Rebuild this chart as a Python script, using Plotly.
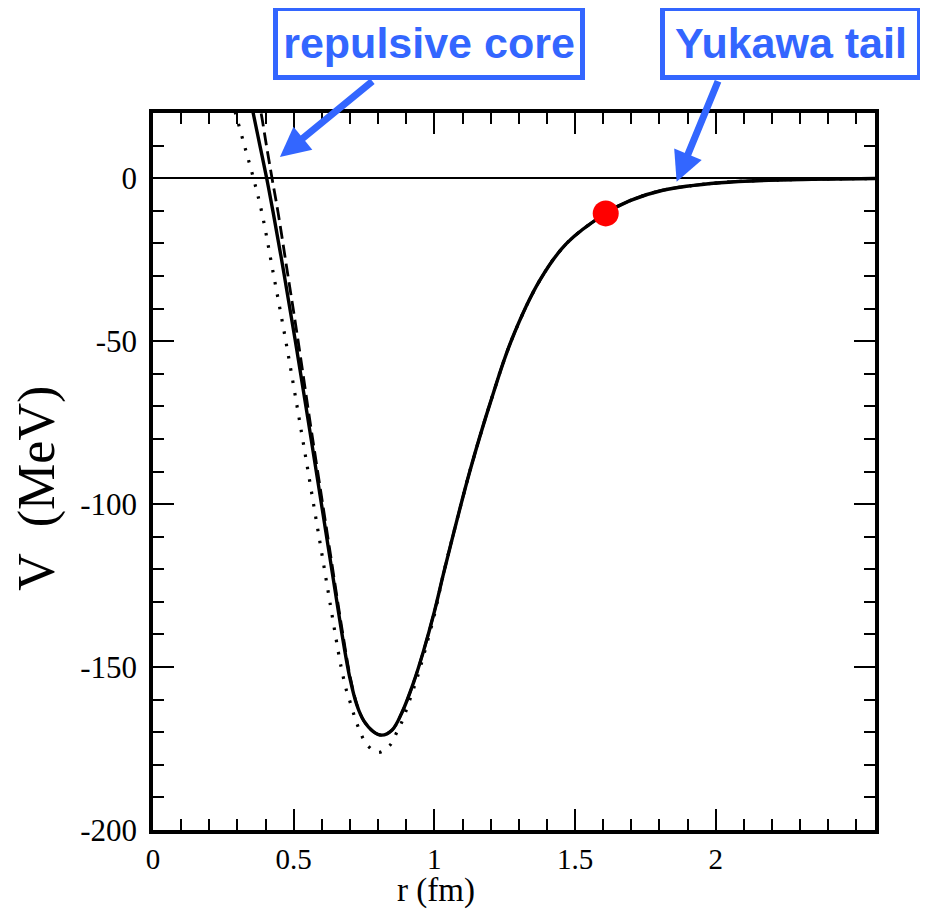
import plotly.graph_objects as go

# ---- data ----
solid_r = [0.345, 0.356, 0.380, 0.404, 0.427, 0.465, 0.505, 0.550, 0.617, 0.670, 0.700,
           0.725, 0.750, 0.783, 0.813, 0.850, 0.884, 0.925, 0.960, 1.000, 1.032, 1.080,
           1.127, 1.198, 1.275, 1.375, 1.470, 1.609, 1.695, 1.812, 2.015, 2.252, 2.566]
solid_v = [24.5, 20.0, 10.0, 0.0, -10.5, -29.0, -49.5, -73.5, -110.0, -139.0, -153.5,
           -161.8, -166.6, -169.8, -170.9, -169.3, -164.1, -155.0, -145.5, -133.0, -121.5, -105.0,
           -89.6, -69.1, -49.5, -31.3, -20.0, -10.8, -6.9, -3.7, -1.4, -0.5, -0.1]

dashed_r = [0.370, 0.384, 0.404, 0.423, 0.445, 0.478, 0.515, 0.556, 0.621, 0.673, 0.702,
            0.726, 0.750, 0.783, 0.813, 0.850, 0.884, 0.925, 0.960, 1.000, 1.032, 1.080,
            1.127, 1.198, 1.275, 1.375, 1.470, 1.609, 1.695, 1.812, 2.015, 2.252, 2.566]
dashed_v = [25.5, 20.0, 9.6, 0.0, -10.8, -29.0, -49.5, -73.5, -110.0, -139.0, -153.5,
            -161.8, -166.6, -169.8, -170.9, -169.3, -164.1, -155.0, -145.5, -133.0, -121.5, -105.0,
            -89.6, -69.1, -49.5, -31.3, -20.0, -10.8, -6.9, -3.7, -1.4, -0.5, -0.1]

dotted_r = [0.280, 0.293, 0.325, 0.357, 0.388, 0.425, 0.470, 0.518, 0.590, 0.665, 0.676,
            0.688, 0.703, 0.718, 0.736, 0.759, 0.800, 0.842, 0.866, 0.887, 0.904, 0.921,
            0.937, 0.960, 1.000, 1.032, 1.080, 1.127, 1.198, 1.275, 1.375, 1.470, 1.609,
            1.695, 1.812, 2.015, 2.252, 2.566]
dotted_v = [24.0, 20.0, 10.0, 0.0, -11.0, -28.0, -49.0, -73.0, -110.0, -148.4, -153.0,
            -157.3, -161.4, -165.7, -169.8, -173.7, -176.2, -174.0, -170.1, -166.3, -162.2, -157.9,
            -153.8, -147.0, -134.0, -121.5, -105.0, -89.6, -69.1, -49.5, -31.3, -20.0, -10.8,
            -6.9, -3.7, -1.4, -0.5, -0.1]

dot_r = [1.609]
dot_v = [-10.8]

x_tickvals = [0, 0.5, 1, 1.5, 2]
x_ticktext = ["0", "0.5", "1", "1.5", "2"]
y_tickvals = [0, -50, -100, -150, -200]
y_ticktext = ["0", "-50", "-100", "-150", "-200"]

BLUE = "#3366ff"
SERIF = "Liberation Serif, Times New Roman, serif"
SANS = "Liberation Sans, Arial, sans-serif"

fig = go.Figure()
fig.add_trace(go.Scatter(x=dotted_r, y=dotted_v, mode="lines", line_shape="spline",
                         line=dict(color="black", width=3.2, dash="2.5px,10px"),
                         showlegend=False, hoverinfo="skip"))
fig.add_trace(go.Scatter(x=dashed_r, y=dashed_v, mode="lines", line_shape="spline",
                         line=dict(color="black", width=2.8, dash="13px,6px"),
                         showlegend=False, hoverinfo="skip"))
fig.add_trace(go.Scatter(x=solid_r, y=solid_v, mode="lines", line_shape="spline",
                         line=dict(color="black", width=3.4),
                         showlegend=False, hoverinfo="skip"))
fig.add_trace(go.Scatter(x=dot_r, y=dot_v, mode="markers",
                         marker=dict(color="#ff0000", size=26, line=dict(width=0)),
                         showlegend=False, hoverinfo="skip"))

axis_common = dict(showline=True, linecolor="black", linewidth=3.5, mirror="ticks",
                   ticks="inside", tickcolor="black", tickwidth=2, ticklen=21,
                   showgrid=False)

fig.update_xaxes(range=[0, 2.566], tickvals=x_tickvals, ticktext=x_ticktext,
                 zeroline=False, tickfont=dict(family=SERIF, size=29, color="black"),
                 minor=dict(ticks="inside", dtick=0.1, tick0=0, ticklen=11,
                            tickwidth=2, tickcolor="black", showgrid=False),
                 **axis_common)
fig.update_yaxes(range=[-200, 20], tickvals=y_tickvals, ticktext=y_ticktext,
                 zeroline=True, zerolinecolor="black", zerolinewidth=2,
                 tickfont=dict(family=SERIF, size=31, color="black"),
                 ticklabelstandoff=6,
                 minor=dict(ticks="inside", dtick=10, tick0=0, ticklen=11,
                            tickwidth=2, tickcolor="black", showgrid=False),
                 **axis_common)

annotations = [
    # axis titles
    dict(text="r (fm)", xref="paper", yref="paper", x=0.392, y=-0.085,
         xanchor="center", yanchor="middle", showarrow=False,
         font=dict(family=SERIF, size=33, color="black")),
    dict(text="V\u00a0\u00a0(MeV)", xref="paper", yref="paper", x=-0.161, y=0.477,
         xanchor="center", yanchor="middle", showarrow=False, textangle=-90,
         font=dict(family=SERIF, size=52, color="black")),
    # labelled boxes
    dict(text="<b>repulsive core</b>", xref="paper", yref="paper", x=0.3823, y=1.0983,
         xanchor="center", yanchor="middle", showarrow=False,
         width=302, height=64, borderwidth=5, bordercolor=BLUE, borderpad=0,
         bgcolor="white", font=dict(family=SANS, size=43, color=BLUE)),
    dict(text="<b>Yukawa tail</b>", xref="paper", yref="paper", x=0.8837, y=1.0983,
         xanchor="center", yanchor="middle", showarrow=False,
         width=252, height=64, borderwidth=5, bordercolor=BLUE, borderpad=0,
         bgcolor="white", font=dict(family=SANS, size=43, color=BLUE)),
    # arrows
    dict(text="", x=0.451, y=6.5, xref="x", yref="y", ax=94, ay=-77,
         showarrow=True, arrowhead=2, arrowsize=0.85, arrowwidth=7, arrowcolor=BLUE,
         standoff=0),
    dict(text="", x=1.861, y=-1.1, xref="x", yref="y", ax=42, ay=-102,
         showarrow=True, arrowhead=2, arrowsize=0.85, arrowwidth=7, arrowcolor=BLUE,
         standoff=0),
]

# page body has an 8px default margin: size/margins compensate so the plot
# area lands at x 153..875, y 113..830 in the 928x910 window
fig.update_layout(width=920, height=902,
                  margin=dict(l=145, r=53, t=105, b=80),
                  paper_bgcolor="white", plot_bgcolor="white",
                  annotations=annotations, showlegend=False)

fig.write_html("out.html")
